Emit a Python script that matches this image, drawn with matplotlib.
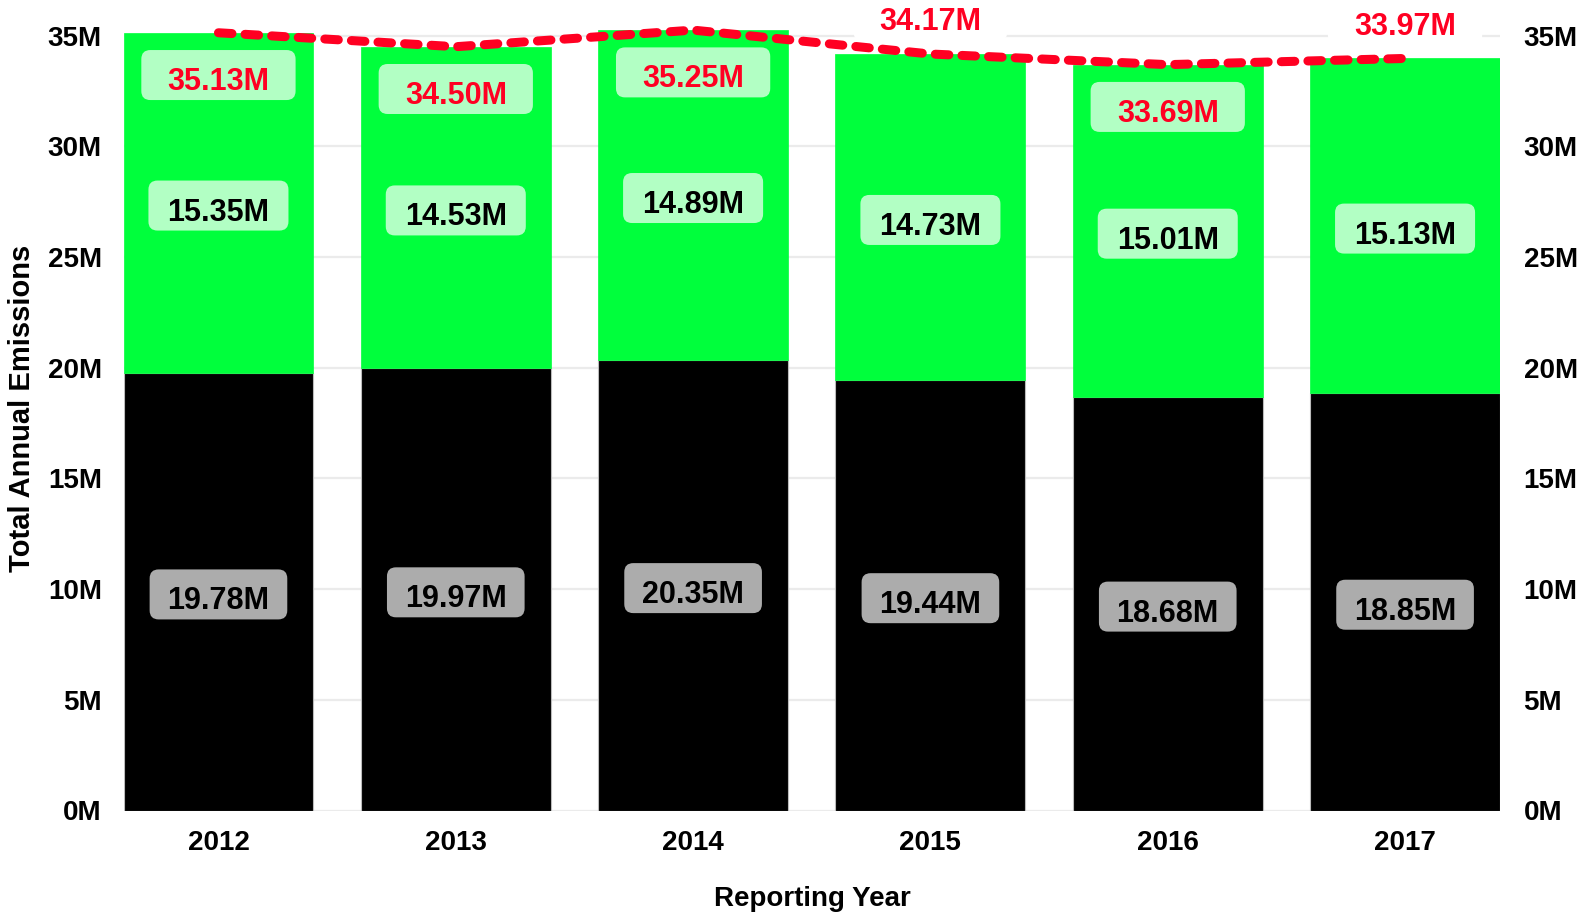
import matplotlib
matplotlib.use("Agg")
import matplotlib.pyplot as plt
from matplotlib.patches import FancyBboxPatch
import numpy as np

# 数据
years = ["2012", "2013", "2014", "2015", "2016", "2017"]
black_vals = [19.78, 19.97, 20.35, 19.44, 18.68, 18.85]
green_vals = [15.35, 14.53, 14.89, 14.73, 15.01, 15.13]
totals = [35.13, 34.50, 35.25, 34.17, 33.69, 33.97]
total_above = [False, False, False, True, False, True]  # 总量标签放在柱子外面

yticks = [0, 5, 10, 15, 20, 25, 30, 35]

GREEN = "#00ff3c"
RED = "#ff0022"
FONT = "Liberation Sans"

plt.rcParams["font.family"] = [FONT, "DejaVu Sans"]
plt.rcParams["font.weight"] = "bold"

fig = plt.figure(figsize=(15.93, 9.14), dpi=100)
ax = fig.add_axes([124 / 1593, 1 - 810.5 / 914, 1376 / 1593, 797 / 914])

x = np.arange(len(years))
bar_w = 0.8

ax.bar(x, black_vals, width=bar_w, color="black", edgecolor="#bbbbbb",
       linewidth=0.8, zorder=2)
ax.bar(x, green_vals, width=bar_w, bottom=black_vals, color=GREEN,
       edgecolor=GREEN, linewidth=0.5, zorder=2)

ax.set_xlim(-0.398, 5.40)
ax.set_ylim(0, 36)
ax.set_yticks(yticks)
ax.set_yticklabels([f"{t}M" for t in yticks])
ax.set_xticks(x)
ax.set_xticklabels(years)
ax.yaxis.grid(True, color="#ebebeb", linewidth=1.6, zorder=0)
ax.set_axisbelow(True)
ax.tick_params(axis="y", length=0, pad=16, labelsize=20)
ax.tick_params(axis="x", length=0, pad=14, labelsize=20)
for s in ax.spines.values():
    s.set_visible(False)

# 右侧y轴
ax2 = ax.twinx()
ax2.set_ylim(ax.get_ylim())
ax2.set_yticks(yticks)
ax2.set_yticklabels([f"{t}M" for t in yticks])
ax2.tick_params(axis="y", length=0, pad=17, labelsize=20)
for s in ax2.spines.values():
    s.set_visible(False)

# 单位换算：1M ≈ 22.14像素，1柱间距 ≈ 237.3像素
px_y = 1 / 22.14
px_x = 1 / 237.3
box_h = 50 * px_y
rad = 9 * px_x
aspect = px_y / px_x


def label(xc, base, text, color, box_w, face, alpha):
    # 圆角背景框 + 文字
    yc = base + 0.68
    if face is not None:
        box = FancyBboxPatch(
            (xc - box_w / 2, yc - box_h / 2), box_w, box_h,
            boxstyle=f"round,pad=0,rounding_size={rad}",
            mutation_aspect=aspect,
            facecolor=face, alpha=alpha, edgecolor="none",
            zorder=3, clip_on=False,
        )
        ax.add_patch(box)
    ax.text(xc, base, text, ha="center", va="baseline", fontsize=22,
            fontweight="bold", color=color, zorder=4, clip_on=False)


for i in range(len(years)):
    label(x[i], black_vals[i] / 2 - 0.81, f"{black_vals[i]:.2f}M", "black",
          0.58, "white", 0.68)
    label(x[i], black_vals[i] + green_vals[i] / 2 - 0.81,
          f"{green_vals[i]:.2f}M", "black", 0.59, "white", 0.7)
    if total_above[i]:
        label(x[i], totals[i] + 1.07, f"{totals[i]:.2f}M", RED,
              0.65, "white", 1.0)
    else:
        label(x[i], totals[i] - 2.59, f"{totals[i]:.2f}M", RED,
              0.65, "white", 0.7)

# 总量折线
ax.plot(x, totals, color=RED, linewidth=6.5, linestyle=(0, (1.5, 1.45)),
        dash_capstyle="round", zorder=5, clip_on=False)

fig.text(812 / 1593, 1 - 899 / 914, "Reporting Year", ha="center",
         va="center", fontsize=20, fontweight="bold")
fig.text(22 / 1593, 1 - 408 / 914, "Total Annual Emissions", ha="center",
         va="center", rotation=90, fontsize=21, fontweight="bold")

fig.savefig("out.png", dpi=100)
